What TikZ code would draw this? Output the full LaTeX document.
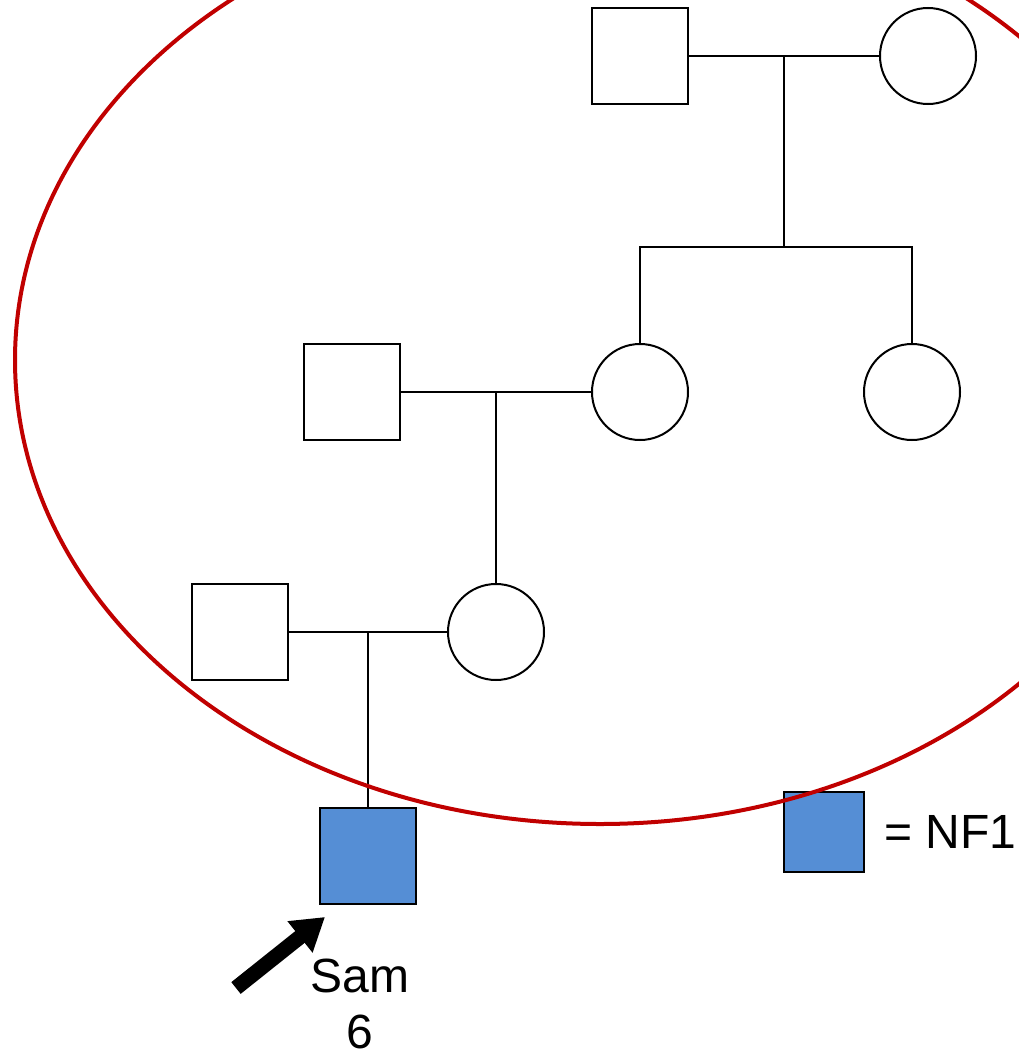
\documentclass[tikz,border=0pt]{standalone}
\usepackage{fontspec}
\setmainfont{Liberation Sans}
\usetikzlibrary{arrows.meta}
\definecolor{nfblue}{RGB}{85,142,213}
\definecolor{ringred}{RGB}{192,0,0}

\begin{document}
\begin{tikzpicture}[x=1pt,y=-1pt,
  male/.style={rectangle,draw,line width=2pt,minimum size=96pt,inner sep=0pt},
  female/.style={circle,draw,line width=2pt,minimum size=96pt,inner sep=0pt},
  affected/.style={fill=nfblue},
  link/.style={line width=2pt},
  label/.style={font=\fontsize{48}{56}\selectfont,align=center,inner sep=0pt}]
\useasboundingbox (0,0) rectangle (1019,1052);
\clip (0,0) rectangle (1019,1052);
% grandparents
\node[male] (gpa) at (640,56) {};
\node[female] (gma) at (928,56) {};
\coordinate (mar1) at (784,56);
\coordinate (sib1) at (784,247);
% mother, aunt and father
\node[female] (mom) at (640,392) {};
\node[female] (aunt) at (912,392) {};
\node[male] (dad) at (352,392) {};
\coordinate (mar2) at (496,392);
% parents of Sam
\node[female] (mother) at (496,632) {};
\node[male] (father) at (240,632) {};
\coordinate (mar3) at (368,632);
\node[male,affected] (sam) at (368,856) {};
\node[label] (samtext) at (360,1004) {Sam\\6};
% legend
\node[male,affected,minimum size=80pt] (key) at (824,832) {};
\node[label,anchor=west] (keytext) at (884,832) {= NF1};
% lines
\draw[link] (gpa.east) -- (gma.west);
\draw[link] (mar1) -- (sib1);
\draw[link] (mom.north) -- (mom.north |- sib1) -- (aunt.north |- sib1) -- (aunt.north);
\draw[link] (dad.east) -- (mom.west);
\draw[link] (mar2) -- (mother.north);
\draw[link] (father.east) -- (mother.west);
\draw[link] (mar3) -- (sam.north);
% proband arrow
\coordinate (tail) at (236,988);
\coordinate (tip) at (325,917);
\draw[line width=15pt,-{Triangle[length=32pt,width=38pt]}] (tail) -- (tip);
% ring
\draw[ringred,line width=4pt] (600,360) ellipse [x radius=585,y radius=464];
\end{tikzpicture}
\end{document}
